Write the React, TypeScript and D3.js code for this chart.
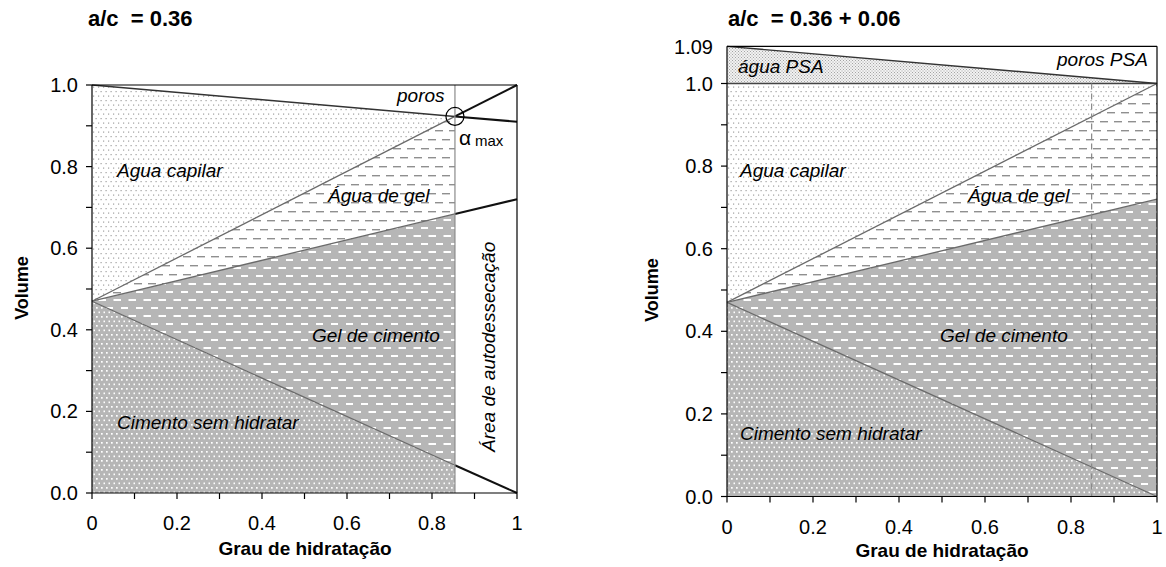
import React from 'react';
import * as d3 from 'd3';

// ---- Data: left chart (a/c = 0.36) ----
const alphaL = [0, 0.854, 1];
const cementL = [0.47, 0.068, 0];
const gelSolidL = [0.47, 0.684, 0.72];
const gelWaterL = [0.47, 0.923, 1.0];
const capTopL = [1.0, 0.923, 0.91];

// ---- Data: right chart (a/c = 0.36 + 0.06) ----
const alphaR = [0, 1];
const cementR = [0.47, 0];
const gelSolidR = [0.47, 0.72];
const gelWaterR = [0.47, 1.0];
const capTopR = [1.0, 1.0];
const psaTopR = [1.09, 1.0];
const alphaMaxR = 0.848;

const xTickVals = [0, 0.1, 0.2, 0.3, 0.4, 0.5, 0.6, 0.7, 0.8, 0.9, 1];
const xLabelVals = [0, 0.2, 0.4, 0.6, 0.8, 1];
const yTickVals = [0, 0.1, 0.2, 0.3, 0.4, 0.5, 0.6, 0.7, 0.8, 0.9, 1];
const yLabelVals = [0, 0.2, 0.4, 0.6, 0.8, 1];

const titleL = 'a/c  = 0.36';
const titleR = 'a/c  = 0.36 + 0.06';
const xTitle = 'Grau de hidratação';
const yTitle = 'Volume';

const FONT = '"Liberation Sans", Arial, sans-serif';
const GRAY = '#b6b6b6';

type P = [number, number, number];
const zip = (a: number[], lo: number[], hi: number[]): P[] => a.map((v, i) => [v, lo[i], hi[i]]);

function Axes({ x, y, x0, x1, y0, y1 }: any) {
  const fmtX = d3.format('');
  return (
    <g fontFamily={FONT} fill="#000">
      <line x1={x(x0)} x2={x(x1)} y1={y(0)} y2={y(0)} stroke="#000" strokeWidth={1.2} />
      <line x1={x(0)} x2={x(0)} y1={y(0)} y2={y(y1)} stroke="#000" strokeWidth={1.2} />
      {xTickVals.map((t) => (
        <line key={'xt' + t} x1={x(t)} x2={x(t)} y1={y(0)} y2={y(0) + 6} stroke="#000" strokeWidth={1.2} />
      ))}
      {xLabelVals.map((t) => (
        <text key={'xl' + t} x={x(t)} y={y(0) + 37} textAnchor="middle" fontSize={20}>
          {fmtX(+t.toFixed(1))}
        </text>
      ))}
      {yTickVals.map((t) => (
        <line key={'yt' + t} x1={x(0) - 6} x2={x(0)} y1={y(t)} y2={y(t)} stroke="#000" strokeWidth={1.2} />
      ))}
      {yLabelVals.map((t) => (
        <text key={'yl' + t} x={x(0) - 14} y={y(t) + 7} textAnchor="end" fontSize={20}>
          {d3.format('.1f')(t)}
        </text>
      ))}
    </g>
  );
}

function Patterns() {
  return (
    <defs>
      <pattern id="pCap" width={5} height={9} patternUnits="userSpaceOnUse">
        <rect width={5} height={9} fill="#fff" />
        <rect x={0.5} y={1} width={1.2} height={1.2} fill="#a0a0a0" />
        <rect x={3} y={5.5} width={1.2} height={1.2} fill="#a0a0a0" />
      </pattern>
      <pattern id="pPSA" width={3} height={3} patternUnits="userSpaceOnUse">
        <rect width={3} height={3} fill="#f2f2f2" />
        <rect x={0} y={0} width={1} height={1} fill="#a4a4a4" />
        <rect x={1.5} y={1.5} width={1} height={1} fill="#a4a4a4" />
      </pattern>
      <pattern id="pGelW" width={14} height={18} patternUnits="userSpaceOnUse">
        <rect width={14} height={18} fill="#fff" />
        <rect x={1} y={4} width={8} height={1.4} fill="#8f8f8f" />
        <rect x={8} y={13} width={6} height={1.4} fill="#8f8f8f" />
        <rect x={0} y={13} width={2} height={1.4} fill="#8f8f8f" />
      </pattern>
      <pattern id="pGelS" width={15} height={16} patternUnits="userSpaceOnUse">
        <rect width={15} height={16} fill={GRAY} />
        <rect x={1} y={3} width={7} height={2} fill="#fff" />
        <rect x={8.5} y={11} width={6.5} height={2} fill="#fff" />
        <rect x={0} y={11} width={1} height={2} fill="#fff" />
      </pattern>
      <pattern id="pCem" width={5} height={9} patternUnits="userSpaceOnUse">
        <rect width={5} height={9} fill={GRAY} />
        <rect x={1} y={1} width={1.7} height={1.7} fill="#fff" />
        <rect x={3.5} y={5.5} width={1.7} height={1.7} fill="#fff" />
      </pattern>
    </defs>
  );
}

function LeftChart() {
  const x = d3.scaleLinear().domain([0, 1]).range([92, 517]);
  const y = d3.scaleLinear().domain([0, 1]).range([493, 85]);
  const area = d3.area<P>().x((d) => x(d[0])).y0((d) => y(d[1])).y1((d) => y(d[2]));
  const line = d3.line<[number, number]>().x((d) => x(d[0])).y((d) => y(d[1]));
  const zeros = alphaL.map(() => 0);
  const n = 2; // hydrated domain: alpha 0 .. alpha max
  const seg = (arr: number[], s: number, e: number) =>
    alphaL.slice(s, e).map((a, i) => [a, arr[s + i]] as [number, number]);
  const aMax = alphaL[1];
  return (
    <g>
      <path d={area(zip(alphaL, zeros, cementL).slice(0, n)) || ''} fill="url(#pCem)" />
      <path d={area(zip(alphaL, cementL, gelSolidL).slice(0, n)) || ''} fill="url(#pGelS)" />
      <path d={area(zip(alphaL, gelSolidL, gelWaterL).slice(0, n)) || ''} fill="url(#pGelW)" />
      <path d={area(zip(alphaL, gelWaterL, capTopL).slice(0, n)) || ''} fill="url(#pCap)" />
      {[cementL, gelSolidL, gelWaterL].map((arr, i) => (
        <path key={'g' + i} d={line(seg(arr, 0, 2)) || ''} fill="none" stroke="#6a6a6a" strokeWidth={1.3} />
      ))}
      <path d={line(seg(capTopL, 0, 2)) || ''} fill="none" stroke="#333" strokeWidth={1.5} />
      {[cementL, gelSolidL, gelWaterL, capTopL].map((arr, i) => (
        <path key={'b' + i} d={line(seg(arr, 1, 3)) || ''} fill="none" stroke="#111" strokeWidth={2} />
      ))}
      <line x1={x(aMax)} x2={x(aMax)} y1={y(1)} y2={y(0)} stroke="#8a8a8a" strokeWidth={1.2} />
      <line x1={x(0)} x2={x(1)} y1={y(1)} y2={y(1)} stroke="#000" strokeWidth={1.2} />
      <line x1={x(1)} x2={x(1)} y1={y(1)} y2={y(0)} stroke="#000" strokeWidth={1.2} />
      <circle cx={x(aMax)} cy={y(gelWaterL[1])} r={9} fill="none" stroke="#000" strokeWidth={1.2} />
      <Axes x={x} y={y} x0={0} x1={1} y0={0} y1={1} />
      <g fontFamily={FONT} fontStyle="italic" fontSize={19} fill="#000">
        <text x={117} y={177}>Agua capilar</text>
        <text x={328} y={202}>Água de gel</text>
        <text x={312} y={342}>Gel de cimento</text>
        <text x={117} y={429}>Cimento sem hidratar</text>
        <text x={397} y={102}>poros</text>
        <text transform={`translate(495,452) rotate(-90)`}>Área de autodessecação</text>
      </g>
      <text x={459} y={145} fontFamily={FONT} fontSize={21} fill="#000">α</text>
      <text x={475} y={146} fontFamily={FONT} fontSize={15} fill="#000">max</text>
      <text x={88} y={26} fontFamily={FONT} fontWeight="bold" fontSize={22} style={{ whiteSpace: 'pre' }}>{titleL}</text>
      <text x={305} y={555} fontFamily={FONT} fontWeight="bold" fontSize={19} textAnchor="middle">{xTitle}</text>
      <text transform="translate(28,288) rotate(-90)" fontFamily={FONT} fontWeight="bold" fontSize={18} textAnchor="middle">{yTitle}</text>
    </g>
  );
}

function RightChart() {
  const x = d3.scaleLinear().domain([0, 1]).range([727, 1157]);
  const y = d3.scaleLinear().domain([0, 1]).range([496.5, 83.5]);
  const area = d3.area<P>().x((d) => x(d[0])).y0((d) => y(d[1])).y1((d) => y(d[2]));
  const line = d3.line<[number, number]>().x((d) => x(d[0])).y((d) => y(d[1]));
  const zeros = alphaR.map(() => 0);
  const pts = (arr: number[]) => alphaR.map((a, i) => [a, arr[i]] as [number, number]);
  const top = 1.09;
  return (
    <g>
      <path d={area(zip(alphaR, zeros, cementR)) || ''} fill="url(#pCem)" />
      <path d={area(zip(alphaR, cementR, gelSolidR)) || ''} fill="url(#pGelS)" />
      <path d={area(zip(alphaR, gelSolidR, gelWaterR)) || ''} fill="url(#pGelW)" />
      <path d={area(zip(alphaR, gelWaterR, capTopR)) || ''} fill="url(#pCap)" />
      <path d={area(zip(alphaR, capTopR, psaTopR)) || ''} fill="url(#pPSA)" />
      {[cementR, gelSolidR, gelWaterR].map((arr, i) => (
        <path key={'g' + i} d={line(pts(arr)) || ''} fill="none" stroke="#6a6a6a" strokeWidth={1.3} />
      ))}
      <path d={line(pts(capTopR)) || ''} fill="none" stroke="#444" strokeWidth={1.3} />
      <path d={line(pts(psaTopR)) || ''} fill="none" stroke="#333" strokeWidth={1.4} />
      <line x1={x(alphaMaxR)} x2={x(alphaMaxR)} y1={y(1)} y2={y(0)} stroke="#888" strokeWidth={1.2} strokeDasharray="6,4" />
      <line x1={x(0)} x2={x(1)} y1={y(top)} y2={y(top)} stroke="#000" strokeWidth={1.2} />
      <line x1={x(1)} x2={x(1)} y1={y(top)} y2={y(0)} stroke="#000" strokeWidth={1.2} />
      <Axes x={x} y={y} x0={0} x1={1} y0={0} y1={top} />
      <text x={x(0) - 14} y={y(top) + 8} textAnchor="end" fontFamily={FONT} fontSize={20}>{d3.format('.2f')(top)}</text>
      <g fontFamily={FONT} fontStyle="italic" fontSize={19} fill="#000">
        <text x={738} y={73}>água PSA</text>
        <text x={1057} y={66}>poros PSA</text>
        <text x={740} y={177}>Agua capilar</text>
        <text x={968} y={202}>Água de gel</text>
        <text x={940} y={342}>Gel de cimento</text>
        <text x={740} y={440}>Cimento sem hidratar</text>
      </g>
      <text x={728} y={26} fontFamily={FONT} fontWeight="bold" fontSize={22} style={{ whiteSpace: 'pre' }}>{titleR}</text>
      <text x={942} y={557} fontFamily={FONT} fontWeight="bold" fontSize={19} textAnchor="middle">{xTitle}</text>
      <text transform="translate(658,290) rotate(-90)" fontFamily={FONT} fontWeight="bold" fontSize={18} textAnchor="middle">{yTitle}</text>
    </g>
  );
}

export default function App() {
  return (
    <svg width={1166} height={567} style={{ position: 'absolute', left: 0, top: 0, background: '#fff' }}>
      <rect width={1166} height={567} fill="#fff" />
      <Patterns />
      <LeftChart />
      <RightChart />
    </svg>
  );
}
